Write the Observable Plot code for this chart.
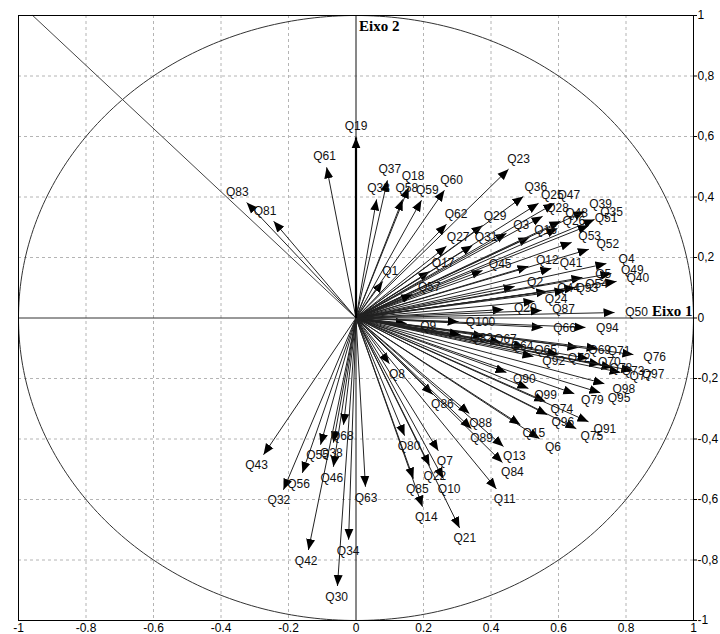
<!DOCTYPE html>
<html>
<head>
<meta charset="utf-8">
<script src="https://cdn.jsdelivr.net/npm/d3@7"></script>
<script src="https://cdn.jsdelivr.net/npm/@observablehq/plot@0.6"></script>
<style>
  body { margin: 0; background: #fff; }
</style>
</head>
<body>
<div id="chart"></div>
<script>
// Correlation circle: loadings of the questionnaire items on axes 1 and 2
const variables = [
  "Q1","Q2","Q3","Q4","Q5","Q6","Q7","Q8","Q9","Q10",
  "Q11","Q12","Q13","Q14","Q15","Q16","Q17","Q18","Q19","Q20",
  "Q21","Q22","Q23","Q24","Q25","Q26","Q27","Q28","Q29","Q30",
  "Q31","Q32","Q33","Q34","Q35","Q36","Q37","Q38","Q39","Q40",
  "Q41","Q42","Q43","Q44","Q45","Q46","Q47","Q48","Q49","Q50",
  "Q51","Q52","Q53","Q54","Q55","Q56","Q57","Q58","Q59","Q60",
  "Q61","Q62","Q63","Q64","Q65","Q66","Q67","Q68","Q69","Q70",
  "Q71","Q72","Q73","Q74","Q75","Q76","Q77","Q78","Q79","Q80",
  "Q81","Q82","Q83","Q84","Q85","Q86","Q87","Q88","Q89","Q90",
  "Q91","Q92","Q93","Q94","Q95","Q96","Q97","Q98","Q99","Q100"
];
const eixo1 = [
  0.079, 0.470, 0.446, 0.742, 0.671, 0.544, 0.244, 0.099, 0.150, 0.259,
  0.416, 0.511, 0.437, 0.197, 0.487, 0.514, 0.218, 0.156, 0.000, 0.437,
  0.307, 0.218, 0.452, 0.529, 0.541, 0.597, 0.268, 0.553, 0.375, -0.055,
  0.345, -0.215, 0.061, -0.022, 0.707, 0.496, 0.093, -0.067, 0.677, 0.772,
  0.579, -0.141, -0.274, 0.567, 0.375, -0.067, 0.588, 0.606, 0.757, 0.766,
  0.690, 0.690, 0.639, 0.650, -0.105, -0.159, 0.167, 0.138, 0.194, 0.262,
  -0.087, 0.268, 0.028, 0.430, 0.500, 0.553, 0.380, -0.037, 0.659, 0.689,
  0.716, 0.600, 0.760, 0.561, 0.653, 0.822, 0.784, 0.724, 0.647, 0.144,
  -0.244, 0.310, -0.324, 0.434, 0.170, 0.227, 0.550, 0.336, 0.342, 0.446,
  0.689, 0.526, 0.621, 0.680, 0.724, 0.567, 0.819, 0.736, 0.511, 0.304
];
const eixo2 = [
  0.121, 0.104, 0.280, 0.180, 0.134, -0.399, -0.439, -0.151, -0.018, -0.531,
  -0.565, 0.171, -0.425, -0.624, -0.353, 0.267, 0.154, 0.432, 0.597, 0.028,
  -0.694, -0.488, 0.492, 0.055, 0.379, 0.296, 0.237, 0.336, 0.306, -0.886,
  0.240, -0.568, 0.392, -0.733, 0.326, 0.402, 0.455, -0.412, 0.353, 0.121,
  0.164, -0.767, -0.452, 0.088, 0.157, -0.492, 0.379, 0.320, 0.147, 0.018,
  0.306, 0.227, 0.250, 0.101, -0.419, -0.512, 0.078, 0.392, 0.389, 0.422,
  0.498, 0.310, -0.558, -0.080, -0.095, -0.031, -0.060, -0.353, -0.098, -0.134,
  -0.101, -0.120, -0.164, -0.276, -0.366, -0.121, -0.180, -0.154, -0.250, -0.389,
  0.320, -0.055, 0.382, -0.478, -0.531, -0.253, 0.025, -0.316, -0.366, -0.180,
  -0.343, -0.127, 0.091, -0.031, -0.247, -0.320, -0.174, -0.217, -0.233, -0.012
];
// Item drawn with a heavier stroke
const boldItems = ["Q19"];

// Auxiliary guide line from the upper-left corner towards the origin
const guideX = [-0.958, 0];
const guideY = [1, 0];

const xTicks = [-1, -0.8, -0.6, -0.4, -0.2, 0, 0.2, 0.4, 0.6, 0.8, 1];
const yTicks = [-1, -0.8, -0.6, -0.4, -0.2, 0, 0.2, 0.4, 0.6, 0.8, 1];
const gridTicks = [-0.8, -0.6, -0.4, -0.2, 0.2, 0.4, 0.6, 0.8];

// Layout
const W = 720, H = 634;
const mL = 18, mR = 27, mT = 15, mB = 14;
const pxX = (W - mL - mR) / 2;   // pixels per unit along axis 1
const pxY = (H - mT - mB) / 2;   // pixels per unit along axis 2

// Labels sit on a small ellipse around each arrow tip, outward along the arrow
const rows = variables.map((name, i) => {
  const x = eixo1[i], y = eixo2[i];
  const dx = x * pxX, dy = -y * pxY;
  const len = Math.hypot(dx, dy) || 1;
  const c = dx / len, s = dy / len;
  const a = 22, b = 11;
  const d = 1 / Math.sqrt((c / a) ** 2 + (s / b) ** 2);
  return {
    name, x, y,
    lx: x + (c * d) / pxX,
    ly: y - (s * d) / pxY
  };
});

const unitCircle = d3.range(0, 361, 1).map(t => ({
  x: Math.cos(t * Math.PI / 180),
  y: Math.sin(t * Math.PI / 180)
}));

// Filled triangular arrowhead
function arrowhead() {
  const m = d3.create("svg:marker")
    .attr("viewBox", "-11 -5 11 10")
    .attr("markerWidth", 11)
    .attr("markerHeight", 10)
    .attr("markerUnits", "userSpaceOnUse")
    .attr("orient", "auto")
    .attr("fill", "#000")
    .attr("stroke", "none");
  m.append("path").attr("d", "M-11,-4.5L0,0L-11,4.5Z");
  return m.node();
}

const fmtBottom = d => String(+d.toFixed(1));
const fmtRight = d => String(+d.toFixed(1)).replace(".", ",");

const chart = Plot.plot({
  width: W,
  height: H,
  marginLeft: mL,
  marginRight: mR,
  marginTop: mT,
  marginBottom: mB,
  style: { background: "#fff", fontFamily: "Liberation Sans, Arial, sans-serif", fontSize: "12px", color: "#000" },
  x: { domain: [-1, 1] },
  y: { domain: [-1, 1] },
  marks: [
    Plot.gridX(gridTicks, { stroke: "#b4b4b4", strokeOpacity: 1, strokeDasharray: "3,3" }),
    Plot.gridY(gridTicks, { stroke: "#b4b4b4", strokeOpacity: 1, strokeDasharray: "3,3" }),
    Plot.ruleY([0], { stroke: "#333" }),
    Plot.ruleX([0], { stroke: "#111" }),
    Plot.line(unitCircle, { x: "x", y: "y", stroke: "#333", strokeWidth: 1 }),
    Plot.link([0], { x1: () => guideX[0], y1: () => guideY[0], x2: () => guideX[1], y2: () => guideY[1], stroke: "#444" }),
    Plot.link(rows.filter(d => !boldItems.includes(d.name)), {
      x1: () => 0, y1: () => 0, x2: "x", y2: "y",
      stroke: "#222", strokeWidth: 1, markerEnd: arrowhead
    }),
    Plot.link(rows.filter(d => boldItems.includes(d.name)), {
      x1: () => 0, y1: () => 0, x2: "x", y2: "y",
      stroke: "#000", strokeWidth: 2.2, markerEnd: arrowhead
    }),
    Plot.text(rows, {
      x: "lx", y: "ly", text: "name",
      fontSize: 12, fill: "#111", textAnchor: "middle", lineAnchor: "middle"
    }),
    Plot.text(["Eixo 2"], {
      x: () => 0, y: () => 1, text: d => d,
      textAnchor: "start", lineAnchor: "top", dx: 3, dy: 5,
      fontFamily: "Liberation Serif, Times New Roman, serif", fontWeight: "bold", fontSize: 15, fill: "#000"
    }),
    Plot.text(["Eixo 1"], {
      x: () => 1, y: () => 0, text: d => d,
      textAnchor: "end", lineAnchor: "bottom", dx: -1, dy: -2,
      fontFamily: "Liberation Serif, Times New Roman, serif", fontWeight: "bold", fontSize: 15, fill: "#000"
    }),
    Plot.frame({ stroke: "#000" }),
    Plot.axisX(xTicks, { anchor: "bottom", tickSize: 0, tickPadding: 3, tickFormat: fmtBottom, label: null, fontSize: 12 }),
    Plot.axisY(yTicks, { anchor: "right", tickSize: 3, tickPadding: 1, tickFormat: fmtRight, label: null, fontSize: 12 })
  ]
});

document.getElementById("chart").appendChild(chart);
</script>
</body>
</html>
